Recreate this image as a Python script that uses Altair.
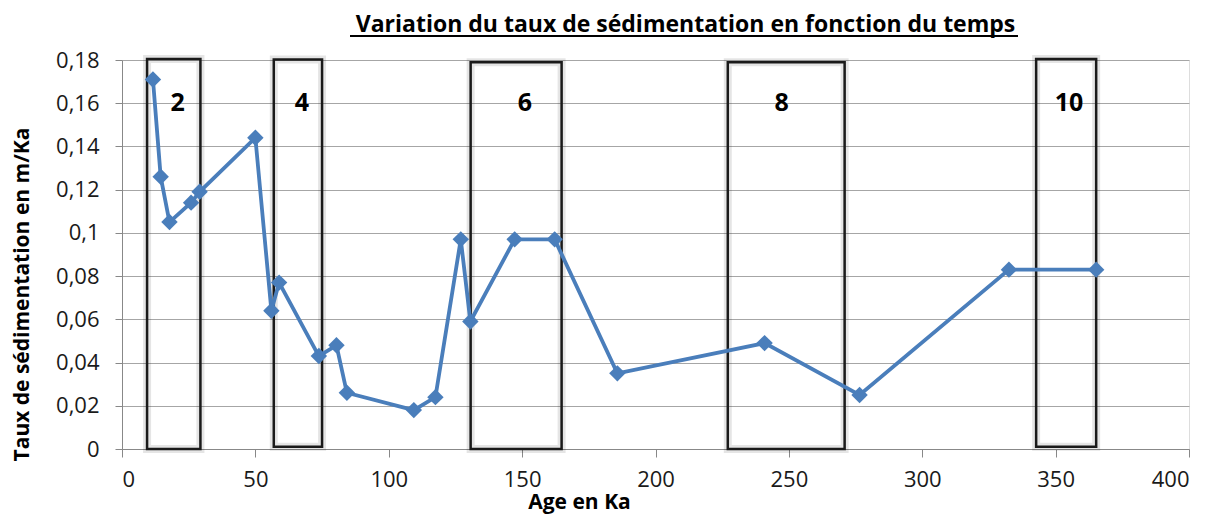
import altair as alt
import pandas as pd

# Data series
age_ka = [11.6, 14.5, 17.8, 25.9, 29.1, 50.0, 56.0, 58.9, 73.8, 80.4, 84.3,
          109.4, 117.5, 127.0, 130.6, 147.2, 162.2, 185.7, 240.9, 276.5, 332.5, 365.2]
taux = [0.171, 0.126, 0.105, 0.114, 0.119, 0.144, 0.064, 0.077, 0.043, 0.048, 0.026,
        0.018, 0.024, 0.097, 0.059, 0.097, 0.097, 0.035, 0.049, 0.025, 0.083, 0.083]

# Stage boxes
box_labels = ["2", "4", "6", "8", "10"]
box_start = [9.4, 56.9, 130.7, 227.1, 342.7]
box_end = [29.4, 75.0, 164.8, 270.9, 365.2]
box_top = [0.1805, 0.1802, 0.179, 0.179, 0.1805]
box_bottom = [0.0, 0.001, 0.0, 0.0, 0.001]
label_x = [20.9, 67.4, 151.0, 247.3, 355.0]
label_y = [0.16, 0.16, 0.16, 0.16, 0.16]

x_ticks = [0, 50, 100, 150, 200, 250, 300, 350, 400]
y_ticks = [0, 0.02, 0.04, 0.06, 0.08, 0.1, 0.12, 0.14, 0.16, 0.18]

df = pd.DataFrame({"age": age_ka, "taux": taux})
boxes = pd.DataFrame({"label": box_labels, "x1": box_start, "x2": box_end,
                      "y1": box_bottom, "y2": box_top, "lx": label_x, "ly": label_y})

FONT = "Open Sans"
BLUE = "#4A7EBB"

xscale = alt.Scale(domain=[0, 400], nice=False, zero=False)
yscale = alt.Scale(domain=[0, 0.18], nice=False)

xaxis = alt.Axis(values=x_ticks, grid=False, tickSize=8, tickColor="#888888",
                 domainColor="#888888", labelFont=FONT, labelFontSize=22,
                 labelColor="#1a1a1a", labelPadding=12,
                 title="Age en Ka", titleFont=FONT, titleFontSize=21,
                 titleFontWeight="bold", titleColor="#000000",
                 titleX=457, titleY=53, titleAlign="center", titleBaseline="middle")
yaxis = alt.Axis(values=y_ticks, grid=True, gridColor="#A6A6A6", gridWidth=1,
                 tickSize=7, tickColor="#888888", domainColor="#888888",
                 labelFont=FONT, labelFontSize=22, labelColor="#1a1a1a",
                 labelPadding=16,
                 labelExpr="replace(format(datum.value, '~g'), '.', ',')",
                 title="Taux de sédimentation en m/Ka", titleFont=FONT,
                 titleFontSize=21, titleFontWeight="bold", titleColor="#000000",
                 titleX=-100, titleY=234, titleAlign="center", titleBaseline="middle",
                 titleAngle=270)

base = alt.Chart(df)

line = base.mark_line(color=BLUE, strokeWidth=3.8).encode(
    x=alt.X("age:Q", scale=xscale, axis=xaxis),
    y=alt.Y("taux:Q", scale=yscale, axis=yaxis),
)
points = base.mark_point(shape="diamond", filled=True, size=270, color=BLUE,
                         opacity=1).encode(
    x=alt.X("age:Q", scale=xscale),
    y=alt.Y("taux:Q", scale=yscale),
)

shadow = alt.Chart(boxes).mark_rect(fill=None, stroke="#000000", strokeOpacity=0.1,
                                     strokeWidth=8).encode(
    x="x1:Q", x2="x2:Q", y="y1:Q", y2="y2:Q")
rects = alt.Chart(boxes).mark_rect(fill=None, stroke="#1a1a1a", strokeWidth=2.5).encode(
    x=alt.X("x1:Q", scale=xscale), x2="x2:Q",
    y=alt.Y("y1:Q", scale=yscale), y2="y2:Q")
labels = alt.Chart(boxes).mark_text(font=FONT, fontSize=25, fontWeight="bold",
                                     color="#000000").encode(
    x=alt.X("lx:Q", scale=xscale), y=alt.Y("ly:Q", scale=yscale), text="label:N")

underline = alt.Chart(df).mark_rule(color="#000000", strokeWidth=2).encode(
    x=alt.value(228), x2=alt.value(896), y=alt.value(-24))

chart = alt.layer(shadow, rects, line, points, labels, underline).properties(
    width=1067, height=389,
    title=alt.TitleParams("Variation du taux de sédimentation en fonction du temps",
                          font=FONT, fontSize=23, fontWeight="bold", color="#000000",
                          anchor="middle", dx=30, dy=10, offset=8),
    autosize=alt.AutoSizeParams(type="none"),
    padding={"left": 114, "top": 52, "right": 15, "bottom": 80},
).configure_view(stroke=None).configure(background="white")

chart.save("out.html", embed_options={"renderer": "svg", "actions": False})
